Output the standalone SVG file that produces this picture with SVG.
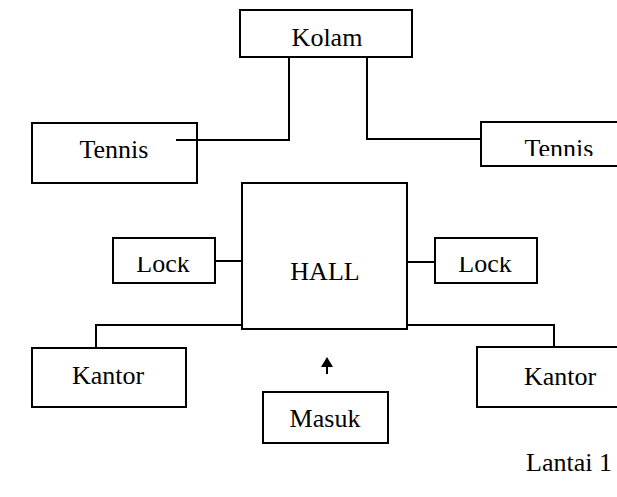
<svg xmlns="http://www.w3.org/2000/svg" width="617" height="497" viewBox="0 0 617 497">
  <style>
    .box { fill: #ffffff; stroke: #000000; stroke-width: 2; }
    .wire { fill: none; stroke: #000000; stroke-width: 2; }
    .label { font-family: "Liberation Serif", "Times New Roman", serif; font-size: 26px; fill: #000000; text-anchor: middle; }
  </style>
  <defs>
    <marker id="arrowhead" markerWidth="12" markerHeight="14" refX="0" refY="6.5" orient="auto" markerUnits="userSpaceOnUse">
      <path d="M0,0.5 L10,6.5 L0,12.5 Z" fill="#000000"/>
    </marker>
    <clipPath id="clip-lock-left"><rect x="100" y="257" width="130" height="40"/></clipPath>
    <clipPath id="clip-lock-right"><rect x="420" y="257" width="130" height="40"/></clipPath>
    <clipPath id="clip-tennis-right"><rect x="490" y="125" width="140" height="31"/></clipPath>
  </defs>

  <rect width="617" height="497" fill="#ffffff"/>

  <!-- connectors -->
  <g id="connectors">
    <polyline class="wire" points="289,57 289,140 176,140"/>
    <polyline class="wire" points="367,57 367,139 481,139"/>
    <line class="wire" x1="215" y1="261" x2="242" y2="261"/>
    <line class="wire" x1="407" y1="262" x2="435" y2="262"/>
    <polyline class="wire" points="242,325 96,325 96,348"/>
    <polyline class="wire" points="407,325 554,325 554,347"/>
    <line class="wire" x1="327" y1="374" x2="327" y2="367" marker-end="url(#arrowhead)"/>
  </g>

  <g id="kolam">
    <rect class="box" x="240" y="10" width="172" height="47"/>
    <text class="label" x="327" y="46">Kolam</text>
  </g>

  <g id="tennis-left">
    <rect class="box" x="32" y="123" width="165" height="60"/>
    <text class="label" x="114" y="158">Tennis</text>
  </g>
  <!-- the link stub runs on into the left court box -->
  <line class="wire" x1="176" y1="140" x2="200" y2="140"/>

  <g id="tennis-right">
    <rect class="box" x="481" y="122" width="160" height="44"/>
    <text class="label" x="559" y="157" clip-path="url(#clip-tennis-right)">Tennis</text>
  </g>

  <g id="hall">
    <rect class="box" x="242" y="183" width="165" height="146"/>
    <text class="label" x="325" y="280">HALL</text>
  </g>

  <g id="lock-left">
    <rect class="box" x="113" y="238" width="102" height="45"/>
    <text class="label" x="163" y="272" clip-path="url(#clip-lock-left)">Lock</text>
  </g>

  <g id="lock-right">
    <rect class="box" x="435" y="238" width="102" height="45"/>
    <text class="label" x="485" y="272" clip-path="url(#clip-lock-right)">Lock</text>
  </g>

  <g id="kantor-left">
    <rect class="box" x="32" y="348" width="154" height="59"/>
    <text class="label" x="108" y="384">Kantor</text>
  </g>

  <g id="kantor-right">
    <rect class="box" x="477" y="347" width="160" height="60"/>
    <text class="label" x="560" y="385">Kantor</text>
  </g>

  <g id="masuk">
    <rect class="box" x="263" y="392" width="125" height="51"/>
    <text class="label" x="325" y="427">Masuk</text>
  </g>

  <text class="label" x="569" y="471">Lantai 1</text>
</svg>
